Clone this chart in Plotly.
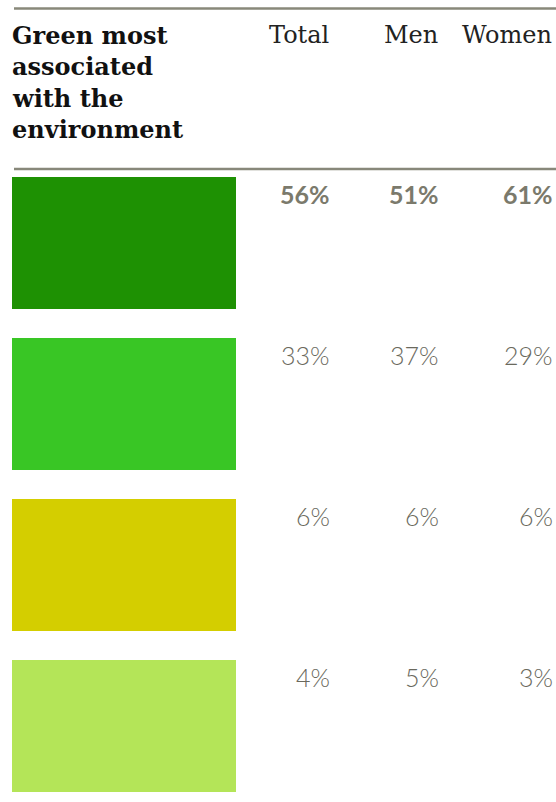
import plotly.graph_objects as go

# ---- data ----
title_lines = ["Green most", "associated", "with the", "environment"]
columns = ["Total", "Men", "Women"]
swatch_colors = ["#1e9103", "#39c625", "#d4ce00", "#b4e558"]
total = [56, 33, 6, 4]
men = [51, 37, 6, 5]
women = [61, 29, 6, 3]

W, H = 556, 802
rows = list(range(len(total)))

fig = go.Figure()
fig.add_trace(go.Bar(
    y=rows, x=[1] * len(rows), orientation="h", width=0.82,
    marker=dict(color=swatch_colors, line=dict(width=0)),
    hoverinfo="skip", showlegend=False,
))

# column right edges (paper fraction)
col_x = [329 / W, 438 / W, 552 / W]
series = [total, men, women]

for ci, (cname, vals) in enumerate(zip(columns, series)):
    fig.add_annotation(
        text=cname, xref="paper", yref="paper", x=col_x[ci], y=1 - 35 / H,
        xanchor="right", yanchor="middle", showarrow=False, xshift=2,
        font=dict(family="DejaVu Serif", size=24, color="#222222"),
    )
    for ri, v in enumerate(vals):
        txt = f"<b>{v}%</b>" if ri == 0 else f"{v}%"
        fig.add_annotation(
            text=txt, xref="paper", yref="y", x=col_x[ci], y=ri,
            xanchor="right", yanchor="middle", yshift=49, xshift=3, showarrow=False,
            font=dict(family="Lato Light, Lato" if ri else "Lato", size=25,
                      color="#6a695d" if ri else "#7b7a6c"),
        )

for li, line in enumerate(title_lines):
    fig.add_annotation(
        text=f"<b>{line}</b>", xref="paper", yref="paper",
        x=13 / W, y=1 - (35 + 31.5 * li) / H, xshift=-3,
        xanchor="left", yanchor="middle", showarrow=False,
        font=dict(family="DejaVu Serif", size=24, color="#111111"),
    )

for yp in (8.5, 169):
    fig.add_shape(type="line", xref="paper", yref="paper",
                  x0=14 / W, x1=1, y0=1 - yp / H, y1=1 - yp / H,
                  line=dict(color="#88887a", width=2.5))

fig.update_layout(
    width=W, height=H, margin=dict(l=0, r=0, t=0, b=0),
    paper_bgcolor="white", plot_bgcolor="white",
    xaxis=dict(range=[-12 / 224, (W - 12) / 224], visible=False, fixedrange=True),
    yaxis=dict(range=[(H - 243) / 161, -243 / 161], visible=False, fixedrange=True),
    bargap=0,
)

fig.write_html("out.html")
